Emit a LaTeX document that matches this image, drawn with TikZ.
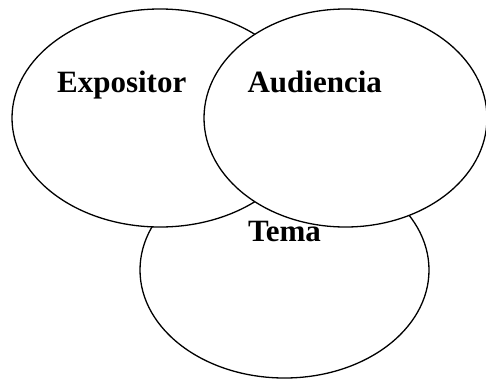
\documentclass[tikz,border=0pt]{standalone}
\usepackage{fontspec}
\setmainfont{Liberation Serif}
\usetikzlibrary{shapes.geometric}
\begin{document}
\begin{tikzpicture}[x=1pt,y=-1pt,
  oval/.style={draw=black,fill=white,line width=1.3pt,ellipse,inner sep=0pt},
  lbl/.style={anchor=base,inner sep=0pt,font=\fontsize{31}{36}\selectfont\bfseries}]
\useasboundingbox (0,0) rectangle (486,378);
\node[oval,minimum width=289pt,minimum height=216pt] (tema) at (284.5,270) {};
\node[oval,minimum width=296pt,minimum height=218pt] (expo) at (160,118) {};
\node[oval,minimum width=283pt,minimum height=218pt] (audi) at (345.5,118) {};
\node[lbl] (texpo) at (121.7,92.5) {Expositor};
\node[lbl] (taudi) at (314.7,92.7) {Audiencia};
\node[lbl] (ttema) at (284.5,241) {Tema};
\end{tikzpicture}
\end{document}
